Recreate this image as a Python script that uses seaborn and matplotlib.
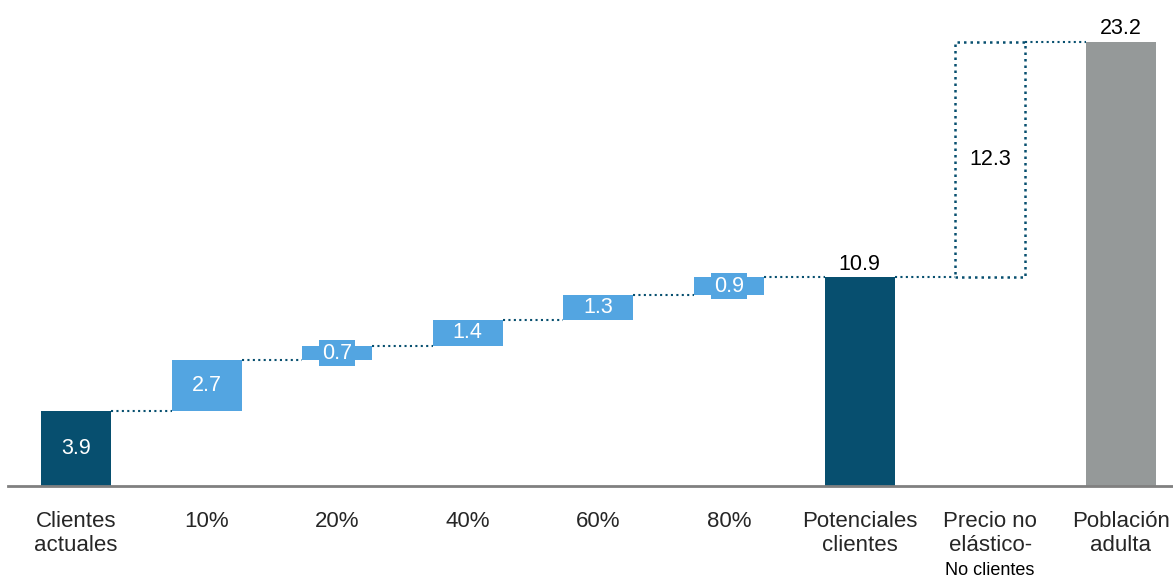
import matplotlib
matplotlib.use("Agg")
import matplotlib.pyplot as plt
import matplotlib.transforms as mtransforms
import numpy as np
import pandas as pd
import seaborn as sns

# Waterfall data
categories = ["Clientes\nactuales", "10%", "20%", "40%", "60%", "80%",
              "Potenciales\nclientes", "Precio no\nelástico-", "Población\nadulta"]
values = [3.9, 2.7, 0.7, 1.4, 1.3, 0.9, 10.9, 12.3, 23.2]
kinds = ["total", "step", "step", "step", "step", "step", "total", "gap", "grand"]

NAVY = "#074f6f"
LIGHT = "#53a5e1"
GREY = "#959999"

# bases for each bar
bottoms = []
running = 0.0
for v, k in zip(values, kinds):
    if k in ("step", "gap"):
        bottoms.append(running)
        running += v
    else:
        bottoms.append(0.0)
        running = v
tops = [b + v for b, v in zip(bottoms, values)]

df = pd.DataFrame({"cat": categories, "value": values, "base": bottoms})

sns.set_theme(style="white")
plt.rcParams["font.family"] = ["Liberation Sans", "DejaVu Sans"]

fig = plt.figure(figsize=(11.73, 5.79), dpi=100)
ax = fig.add_axes([8 / 1173, 93 / 579, 1 - 8 / 1173, 486 / 579])

width = 0.536
sns.barplot(data=df, x="cat", y="value", order=categories, bottom=df["base"].values,
            width=width, color=LIGHT, linewidth=0, ax=ax)

dots = (0, (1, 1.6))
for patch, k in zip(ax.patches, kinds):
    if k == "total":
        patch.set_facecolor(NAVY)
    elif k == "step":
        patch.set_facecolor(LIGHT)
    elif k == "grand":
        patch.set_facecolor(GREY)
    else:
        patch.set_facecolor("none")
        patch.set_edgecolor(NAVY)
        patch.set_linewidth(1.8)
        patch.set_linestyle(dots)

# connectors between consecutive bars
for i in range(len(values) - 1):
    ax.plot([i + width / 2, i + 1 - width / 2], [tops[i], tops[i]],
            color=NAVY, lw=1.5, ls=dots, zorder=1)

# value labels
VFS = 15.5
for i, (v, k) in enumerate(zip(values, kinds)):
    mid = bottoms[i] + v / 2
    if k == "step":
        bbox = None
        if v < 1.0:
            bbox = dict(boxstyle="square,pad=0.12", fc=LIGHT, ec="none")
        ax.text(i, mid, f"{v:.1f}", ha="center", va="center", color="white",
                fontsize=VFS, bbox=bbox, zorder=5)
    elif k == "total" and i == 0:
        ax.text(i, mid, f"{v:.1f}", ha="center", va="center", color="white",
                fontsize=VFS)
    elif k == "gap":
        ax.text(i, mid, f"{v:.1f}", ha="center", va="center", color="black",
                fontsize=VFS)
    else:
        ax.annotate(f"{v:.1f}", (i, tops[i]), xytext=(0, 2), textcoords="offset points",
                    ha="center", va="bottom", color="black", fontsize=VFS)

ax.set_xlim(-0.52, 8.40)
ax.set_ylim(0, 25.4)
ax.set_xlabel("")
ax.set_ylabel("")
ax.set_yticks([])
ax.tick_params(axis="x", length=0, pad=18, labelsize=16)
for lab in ax.get_xticklabels():
    lab.set_linespacing(1.2)
for s in ["top", "right", "left"]:
    ax.spines[s].set_visible(False)
ax.spines["bottom"].set_color("#808080")
ax.spines["bottom"].set_linewidth(2)

trans = mtransforms.blended_transform_factory(ax.transData, fig.transFigure)
ax.text(7, 0 / 579, "No clientes", transform=trans, ha="center", va="bottom",
        fontsize=13, color="black")

fig.savefig("out.png", dpi=100)
